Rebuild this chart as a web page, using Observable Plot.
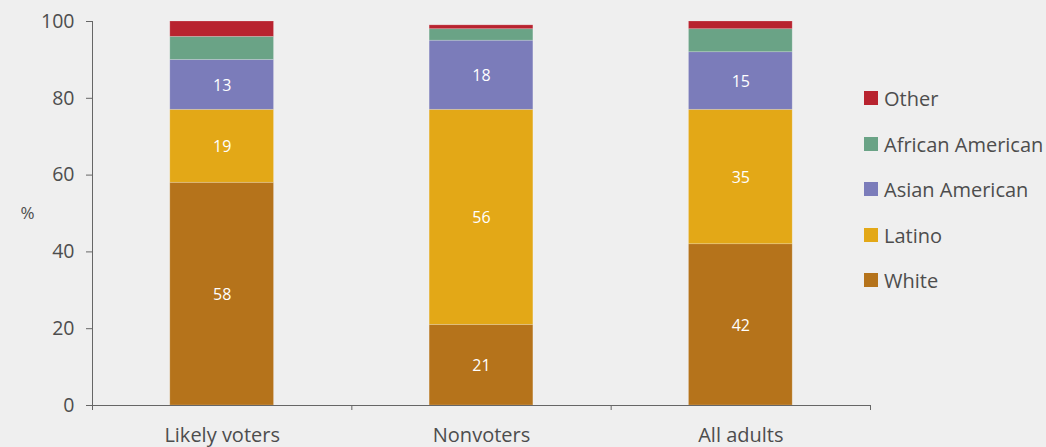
<!DOCTYPE html>
<html>
<head>
<meta charset="utf-8">
<script src="https://cdn.jsdelivr.net/npm/d3@7"></script>
<script src="https://cdn.jsdelivr.net/npm/@observablehq/plot@0.6"></script>
<style>
  html, body { margin: 0; padding: 0; background: #efefef; }
  #wrap { position: relative; width: 1046px; height: 447px; font-family: "Open Sans", sans-serif; }
  #legend { position: absolute; left: 864px; top: 0; }
  .item { position: absolute; left: 0; display: flex; align-items: center; white-space: nowrap;
          font-size: 20px; color: #4d4d4d; height: 20px; }
  .sw { width: 14px; height: 14px; margin-right: 6px; flex: none; }
</style>
</head>
<body>
<div id="wrap"><div id="legend"></div></div>
<script>
const categories = ["Likely voters", "Nonvoters", "All adults"];
const races = ["White", "Latino", "Asian American", "African American", "Other"];
const white = [58, 21, 42];
const latino = [19, 56, 35];
const asianAmerican = [13, 18, 15];
const africanAmerican = [6, 3, 6];
const other = [4, 1, 2];
const colors = ["#b5731b", "#e3a817", "#7b7cba", "#6aa386", "#b8232f"];
const yTicks = [0, 20, 40, 60, 80, 100];
const legendOrder = ["Other", "African American", "Asian American", "Latino", "White"];

const series = [white, latino, asianAmerican, africanAmerican, other];
const rows = [];
categories.forEach((c, i) => {
  let cum = 0;
  races.forEach((r, k) => {
    const v = series[k][i];
    rows.push({category: c, race: r, value: v, x1: i + 0.3, x2: i + 0.7, y1: cum, y2: cum + v});
    cum += v;
  });
});
const labelRows = rows.filter(d => d.value >= 10);

const ink = "#4d4d4d";
const chart = Plot.plot({
  width: 1046,
  height: 447,
  marginTop: 21,
  marginBottom: 42,
  marginLeft: 92,
  marginRight: 176,
  style: {background: "#efefef", fontFamily: "'Open Sans', sans-serif"},
  x: {domain: [0, categories.length]},
  y: {domain: [0, 100]},
  color: {domain: races, range: colors},
  marks: [
    Plot.rect(rows, {x1: "x1", x2: "x2", y1: "y1", y2: "y2", fill: "race", stroke: "white", strokeOpacity: 0.25, strokeWidth: 0.8}),
    Plot.text(labelRows, {x: d => (d.x1 + d.x2) / 2, y: d => (d.y1 + d.y2) / 2, text: d => String(d.value), fill: "white", fontSize: 16, dy: 1}),
    Plot.ruleX([0], {y1: 0, y2: 100, stroke: "#666"}),
    Plot.ruleY([0], {x1: 0, x2: categories.length, stroke: "#666"}),
    Plot.axisY({ticks: yTicks, tickSize: 6, tickPadding: 12, fontSize: 19.5, color: ink, stroke: "#666", label: null}),
    Plot.axisX({ticks: d3.range(categories.length + 1), tickSize: 5, tickFormat: () => "", stroke: "#666", label: null}),
    Plot.axisX({ticks: categories.map((c, i) => i + 0.5), tickSize: 0, tickPadding: 22, tickFormat: v => categories[Math.floor(v)], fontSize: 20, color: ink, label: null}),
    Plot.text(["%"], {frameAnchor: "left", dx: -72, fontSize: 17, fill: ink})
  ]
});
document.getElementById("wrap").prepend(chart);

const legend = document.getElementById("legend");
const legendY = [98, 144, 189, 235, 280];
legendOrder.forEach((r, k) => {
  const item = document.createElement("div");
  item.className = "item";
  item.style.top = (legendY[k] - 10) + "px";
  const sw = document.createElement("div");
  sw.className = "sw";
  sw.style.background = colors[races.indexOf(r)];
  const t = document.createElement("span");
  t.textContent = r;
  item.append(sw, t);
  legend.append(item);
});
</script>
</body>
</html>
